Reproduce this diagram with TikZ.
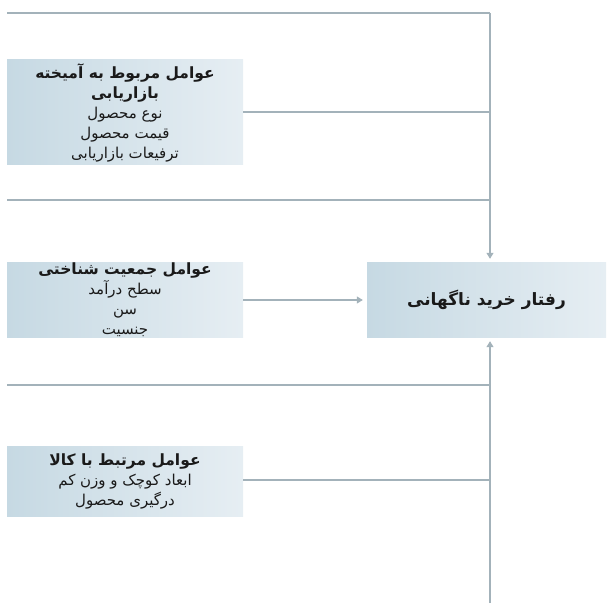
\documentclass[tikz,border=0pt]{standalone}
\usepackage{fontspec}
\newfontfamily\arabicfont[Script=Arabic]{DejaVu Sans}
\TeXXeTstate=1
\usetikzlibrary{arrows.meta}
\definecolor{linec}{HTML}{A3B2BA}
\definecolor{boxl}{HTML}{C6D9E3}
\definecolor{boxr}{HTML}{E6EEF3}
\definecolor{txt}{HTML}{1A1A1A}
\tikzset{
  factor/.style={rectangle, left color=boxl, right color=boxr, draw=none,
    minimum width=236pt, inner sep=0pt, align=center, text=txt,
    font=\arabicfont\fontsize{15}{20}\selectfont},
  conn/.style={draw=linec, line width=1.1pt},
  arr/.style={conn, -{Triangle[length=6pt,width=7pt]}, shorten >=4pt},
}
\newcommand{\rl}[1]{\beginR #1\endR}
\newcommand{\hd}[1]{{\fontsize{15.5}{20}\selectfont\bfseries\beginR #1\endR}}
\begin{document}
\begin{tikzpicture}[x=1pt,y=1pt]
\useasboundingbox (0,0) rectangle (607,603);
% boxes (y = 603 - pixel y)
\node[factor, minimum height=105pt] (b1) at (125,490.5)
  {\hd{عوامل مربوط به آمیخته}\\ \hd{بازاریابی}\\ \rl{نوع محصول}\\ \rl{قیمت محصول}\\ \rl{ترفیعات بازاریابی}};
\node[factor, minimum height=74pt] (b2) at (125,303)
  {\hd{عوامل جمعیت شناختی}\\ \rl{سطح درآمد}\\ \rl{سن}\\ \rl{جنسیت}};
\node[factor, minimum height=70pt] (b3) at (125,122)
  {\hd{عوامل مرتبط با کالا}\\ \rl{ابعاد کوچک و وزن کم}\\ \rl{درگیری محصول}};
\node[factor, minimum width=239pt, minimum height=74pt, font=\arabicfont\fontsize{17}{20}\selectfont\bfseries] (t) at (486.5,303)
  {\rl{رفتار خرید ناگهانی}};
% connector points
\coordinate (l1) at (7,590);
\coordinate (r1) at (490,590);
\coordinate (l2) at (7,403);
\coordinate (r2) at (490,403);
\coordinate (l3) at (7,218);
\coordinate (r3) at (490,218);
\coordinate (bot) at (490,0);
\coordinate (j1) at (490,491);
\coordinate (j3) at (490,123);
% connectors
\draw[conn] (l1) -- (r1);
\draw[conn] (l2) -- (r2);
\draw[conn] (l3) -- (r3);
\draw[conn] (b1.east |- j1) -- (j1);
\draw[conn] (b3.east |- j3) -- (j3);
\draw[arr] (r1) -- (r1 |- t.north);
\draw[arr] (bot) -- (bot |- t.south);
\draw[arr] (b2.east) -- (t.west);
\end{tikzpicture}
\end{document}
